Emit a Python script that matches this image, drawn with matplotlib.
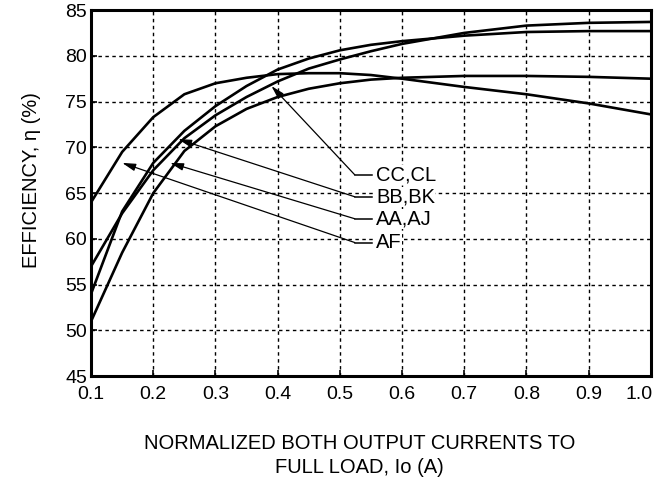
import matplotlib
matplotlib.use("Agg")
import matplotlib.pyplot as plt
import matplotlib.transforms as mtransforms

plt.rcParams['font.family'] = ['Liberation Sans', 'DejaVu Sans']

# Data
load = [0.10, 0.15, 0.20, 0.25, 0.30, 0.35, 0.40, 0.45, 0.50, 0.55, 0.60, 0.70, 0.80, 0.90, 1.00]
eff_af = [64.0, 69.5, 73.3, 75.8, 77.0, 77.6, 78.0, 78.1, 78.1, 77.9, 77.5, 76.6, 75.8, 74.8, 73.6]
eff_aa = [51.0, 58.5, 65.0, 69.6, 72.3, 74.2, 75.5, 76.4, 77.0, 77.4, 77.6, 77.8, 77.8, 77.7, 77.5]
eff_bb = [54.0, 63.0, 68.3, 71.8, 74.5, 76.7, 78.5, 79.7, 80.6, 81.2, 81.6, 82.2, 82.6, 82.7, 82.7]
eff_cc = [57.0, 62.8, 67.5, 71.0, 73.5, 75.5, 77.2, 78.6, 79.6, 80.5, 81.3, 82.5, 83.3, 83.6, 83.7]

labels = ["CC,CL", "BB,BK", "AA,AJ", "AF"]
arrow_tip_x = [0.39, 0.24, 0.227, 0.15]
arrow_tip_y = [76.7, 70.9, 68.3, 68.3]
label_y = [67.0, 64.6, 62.2, 59.6]

xticks = [0.1, 0.2, 0.3, 0.4, 0.5, 0.6, 0.7, 0.8, 0.9, 1.0]
yticks = [45, 50, 55, 60, 65, 70, 75, 80, 85]

FS = 14.5

fig = plt.figure(figsize=(6.6, 4.78), dpi=100)
ax = fig.add_axes([0.138, 0.213, 0.848, 0.766])

for ys in (eff_af, eff_aa, eff_bb, eff_cc):
    ax.plot(load, ys, color='black', lw=1.9, solid_capstyle='round', zorder=3)

ax.set_xlim(0.1, 1.0)
ax.set_ylim(45, 85)
ax.set_xticks(xticks)
ax.set_xticklabels([f"{v:.1f}" for v in xticks])
ax.set_yticks(yticks)
ax.grid(True, color='black', linestyle=(0, (2.5, 2.5)), lw=1.0)
ax.tick_params(axis='both', direction='in', length=4, width=1.2, labelsize=14, colors='black')
ax.tick_params(axis='x', pad=7)
ax.tick_params(axis='y', pad=3)
for s in ax.spines.values():
    s.set_linewidth(2.2)

# shift the last x tick label left so that it ends at the right frame
xl = ax.get_xticklabels()
offset = mtransforms.ScaledTranslation(-12 / 100, 0, fig.dpi_scale_trans)
xl[-1].set_transform(xl[-1].get_transform() + offset)

elbow_x = 0.524
hend_x = 0.552
for lab, tx, ty, ly in zip(labels, arrow_tip_x, arrow_tip_y, label_y):
    ax.plot([elbow_x, hend_x], [ly, ly], color='black', lw=1.1, zorder=4)
    ax.annotate("", xy=(tx, ty), xytext=(elbow_x, ly),
                arrowprops=dict(arrowstyle='-|>,head_length=0.8,head_width=0.22',
                                color='black', lw=0.9, shrinkA=0, shrinkB=0), zorder=4)
    ax.text(hend_x + 0.006, ly, lab, fontsize=FS, va='center', ha='left',
            zorder=5, bbox=dict(facecolor='white', edgecolor='none', pad=0.5))

fig.text(0.047, 0.623, "EFFICIENCY, η (%)", rotation=90, ha='center', va='center', fontsize=FS)
fig.text(0.545, 0.0715, "NORMALIZED BOTH OUTPUT CURRENTS TO", ha='center', va='center', fontsize=FS)
fig.text(0.545, 0.0225, "FULL LOAD, Io (A)", ha='center', va='center', fontsize=FS)

fig.savefig("out.png", dpi=100)
